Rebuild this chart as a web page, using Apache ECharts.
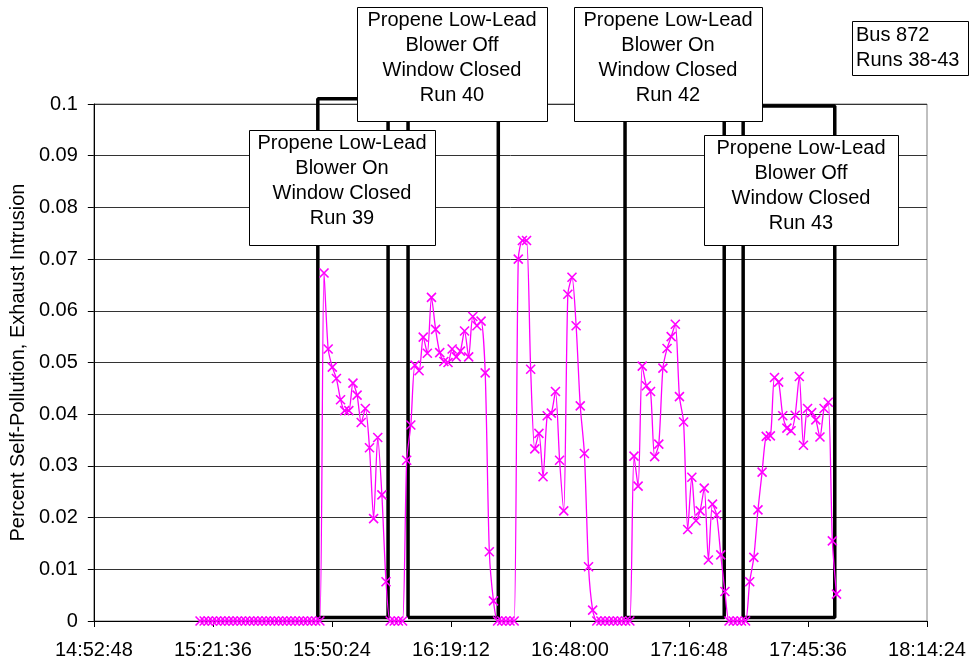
<!DOCTYPE html>
<html>
<head>
<meta charset="utf-8">
<script src="https://cdn.jsdelivr.net/npm/echarts@6/dist/echarts.min.js"></script>
<style>
html,body{margin:0;padding:0;background:#fff;}
#chart{width:970px;height:664px;}
</style>
</head>
<body>
<div id="chart"></div>
<script>
// ---- Data ----
const xTickLabels = ['14:52:48','15:21:36','15:50:24','16:19:12','16:48:00','17:16:48','17:45:36','18:14:24'];
const yTickLabels = ['0','0.01','0.02','0.03','0.04','0.05','0.06','0.07','0.08','0.09','0.1'];

// measurement series: one reading per minute, starting at seriesStart
const seriesStart = '15:18:30';
const stepSeconds = 60;
const selfPollution = [
  0,0,0,0,0,0,0,0,0,0, 0,0,0,0,0,0,0,0,0,0, 0,0,0,0,0,0,0,0,0,0,
  0.0673,0.0526,0.0491,0.0469,0.0428,0.0407,0.0407,0.0460,0.0437,0.0384,
  0.0411,0.0335,0.0198,0.0355,0.0244,0.0076,
  0,0,0,0,
  0.0311,0.0379,0.0495,0.0484,0.0549,0.0518,0.0626,0.0564,0.0519,0.0502,
  0.0500,0.0526,0.0511,0.0522,0.0561,0.0511,0.0589,0.0571,0.0580,0.0480,
  0.0134,0.0039,
  0,0,0,0,0,
  0.0700,0.0736,0.0736,0.0487,0.0333,0.0363,0.0279,0.0397,0.0402,0.0444,
  0.0311,0.0213,0.0632,0.0665,0.0571,0.0416,0.0324,0.0105,0.0021,
  0,0,0,0,0,0,0,0,0,
  0.0319,0.0261,0.0493,0.0455,0.0444,0.0318,0.0342,0.0489,0.0527,0.0550,
  0.0574,0.0434,0.0385,0.0177,0.0278,0.0194,0.0213,0.0257,0.0118,0.0226,
  0.0205,0.0128,0.0057,
  0,0,0,0,0,
  0.0076,0.0123,0.0215,0.0288,0.0357,0.0358,0.0471,0.0462,0.0397,0.0373,
  0.0368,0.0398,0.0473,0.0340,0.0411,0.0403,0.0389,0.0356,0.0411,0.0423,
  0.0155,0.0052
];

// run windows (drawn as rectangles)
const runNames  = ['Run 39','Run 40','Run 42','Run 43'];
const runStarts = ['15:47:00','16:08:50','17:01:20','17:29:55'];
const runEnds   = ['16:04:00','16:30:40','17:25:20','17:52:05'];
const runTop    = [0.101, 0.101, 0.0996, 0.0996];
const runBottom = [0.0007, 0.0007, 0.0007, 0.0007];

const runLabels = [
  'Propene Low-Lead\nBlower On\nWindow Closed\nRun 39',
  'Propene Low-Lead\nBlower Off\nWindow Closed\nRun 40',
  'Propene Low-Lead\nBlower On\nWindow Closed\nRun 42',
  'Propene Low-Lead\nBlower Off\nWindow Closed\nRun 43'
];
const busLabel = 'Bus 872\nRuns 38-43';

// ---- helpers ----
function toSec(s){const p=s.split(':').map(Number);return p[0]*3600+p[1]*60+p[2];}
function fmt(sec){
  sec=Math.round(sec);
  const h=Math.floor(sec/3600), m=Math.floor((sec%3600)/60), s=sec%60;
  return h+':'+String(m).padStart(2,'0')+':'+String(s).padStart(2,'0');
}
const startSec = toSec(seriesStart);
const lineData = selfPollution.map((v,i)=>[startSec+i*stepSeconds, v]);

const boxData = [];
runStarts.forEach((s,i)=>{
  const a=toSec(s), b=toSec(runEnds[i]);
  boxData.push([a,runBottom[i]],[a,runTop[i]],[b,runTop[i]],[b,runBottom[i]],[a,runBottom[i]]);
  if(i<runStarts.length-1) boxData.push([null,null]);
});

const xMin = toSec(xTickLabels[0]);
const xMax = toSec(xTickLabels[xTickLabels.length-1]);
const xInterval = toSec(xTickLabels[1]) - xMin;

const FONT = 'Arial, "Liberation Sans", sans-serif';

function labelBox(x,y,w,h,text,tx,ty,align){
  return [
    {type:'rect', z:100, shape:{x:x+0.5,y:y+0.5,width:w,height:h},
     style:{fill:'#fff',stroke:'#000',lineWidth:1}},
    {type:'text', z:101, x:tx, y:ty,
     style:{text:text, font:'20px '+FONT, fill:'#000', align:align||'center',
            verticalAlign:'middle', lineHeight:25.3}}
  ];
}

const chart = echarts.init(document.getElementById('chart'), null, {renderer:'canvas'});
chart.setOption({
  animation:false,
  backgroundColor:'#fff',
  grid:{left:93,right:43,top:104,bottom:43,show:true,borderColor:'#808080',borderWidth:1,backgroundColor:'transparent'},
  xAxis:{
    type:'value', min:xMin, max:xMax, interval:xInterval,
    axisLine:{show:true,onZero:false,lineStyle:{color:'#000',width:1}},
    axisTick:{show:true,inside:false,length:6,lineStyle:{color:'#000'}},
    axisLabel:{color:'#000',fontSize:20,fontFamily:FONT,margin:19,
      formatter:(v)=>fmt(v), showMinLabel:true, showMaxLabel:true},
    splitLine:{show:false}
  },
  yAxis:{
    type:'value', min:0, max:0.1, interval:0.01,
    name:'Percent Self-Pollution, Exhaust Intrusion',
    nameLocation:'middle', nameRotate:90, nameGap:64,
    nameTextStyle:{color:'#000',fontSize:20,fontFamily:FONT},
    axisLine:{show:true,lineStyle:{color:'#000',width:1}},
    axisTick:{show:true,inside:false,length:6,lineStyle:{color:'#000'}},
    axisLabel:{color:'#000',fontSize:20,fontFamily:FONT,margin:16,
      formatter:(v)=>yTickLabels[Math.round(v*100)]},
    splitLine:{show:true,lineStyle:{color:'#333',width:1}}
  },
  series:[
    {
      name:'Runs', type:'line', data:boxData, connectNulls:false, clip:false,
      showSymbol:false, symbol:'none', smooth:false, z:3,
      lineStyle:{color:'#000',width:3.5}, silent:true
    },
    {
      name:'Self-Pollution', type:'line', data:lineData, z:4,
      smooth:0.25,
      symbol:'path://M0,0L10,10M10,0L0,10', symbolSize:9, showAllSymbol:true, showSymbol:true,
      itemStyle:{color:'#FF00FF',borderColor:'#FF00FF',borderWidth:1.6},
      lineStyle:{color:'#FF00FF',width:1.3}
    }
  ],
  graphic:{elements:[
    ...labelBox(249,130,186,115,runLabels[0],342,181),
    ...labelBox(357,7,190,114,runLabels[1],452,58),
    ...labelBox(574,7,188,114,runLabels[2],668,58),
    ...labelBox(704,135,194,110,runLabels[3],801,186),
    ...labelBox(852,21,116,54,busLabel,856,48,'left')
  ]}
});
</script>
</body>
</html>
